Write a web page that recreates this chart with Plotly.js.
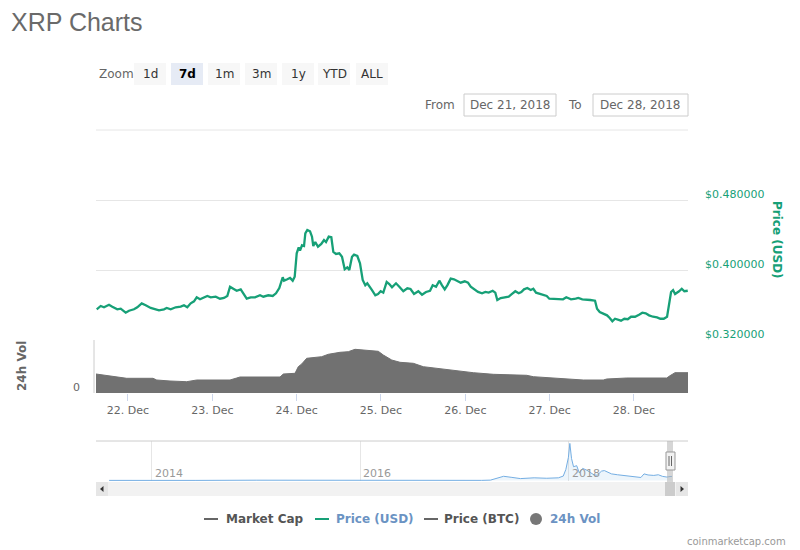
<!DOCTYPE html>
<html><head><meta charset="utf-8">
<script src="https://cdn.plot.ly/plotly-3.0.1.min.js"></script>
<style>html,body{margin:0;padding:0;background:#fff;}#chart{width:800px;height:550px;}</style>
</head><body><div id="chart"></div>
<script>
// ---------- DATA ----------
const rangeStart = '2018-12-21T14:54:00Z';   // left edge of main chart
const rangeHours = 168.48;                    // width of main window (hours)

// Price (USD), hours after rangeStart
const priceHours = [
0.20,1.34,2.28,3.70,4.64,6.06,7.03,8.45,9.39,10.81,
11.75,13.01,14.14,15.57,16.99,17.93,19.35,20.12,21.26,22.68,
24.11,25.04,25.98,26.95,27.89,28.66,29.60,30.74,31.68,32.64,
34.07,35.29,36.43,37.37,38.14,39.08,40.04,41.18,42.12,42.89,
44.03,45.25,46.68,47.62,49.04,50.29,51.23,52.17,53.14,53.51,
54.45,55.22,55.98,56.55,57.12,57.69,58.06,58.63,59.20,59.57,
60.14,60.91,61.47,61.84,62.41,63.18,64.12,64.89,65.46,66.23,
66.97,67.54,68.30,69.24,70.01,70.78,71.52,72.09,72.86,73.43,
74.37,75.13,75.90,76.64,77.21,77.98,78.55,79.49,80.26,81.02,
81.76,82.73,83.47,84.24,85.38,86.32,87.46,88.60,89.51,90.51,
91.73,92.78,93.92,95.06,95.83,96.77,97.71,98.48,99.24,99.98,
100.95,101.89,102.83,103.79,104.93,105.87,106.64,107.58,108.72,109.86,
110.80,111.76,112.90,113.64,114.21,115.18,116.32,117.45,118.39,119.33,
120.30,121.04,121.81,122.75,123.72,124.46,125.23,126.36,127.50,128.27,
129.01,130.06,131.57,132.91,133.85,135.19,136.53,137.27,138.40,139.54,
140.68,142.02,142.59,143.36,144.50,145.44,146.20,146.95,147.71,148.48,
149.42,150.36,151.33,152.27,153.41,154.55,155.49,156.45,157.39,158.53,
159.67,160.61,161.58,162.52,163.09,163.66,164.23,164.80,165.93,166.70,
167.44,168.41];
const priceUSD = [
.3551,.3589,.3574,.3603,.3581,.3551,.3558,.3512,.3535,.3551,
.3574,.3619,.3597,.3566,.3551,.3539,.3551,.3566,.3551,.3574,
.3581,.3597,.3574,.3619,.3642,.3688,.3665,.3688,.3703,.3688,
.3695,.3672,.3680,.3703,.3809,.3786,.3763,.3779,.3726,.3672,
.3688,.3688,.3711,.3695,.3711,.3703,.3734,.3794,.3917,.3878,
.3894,.3909,.3878,.3923,.4191,.4259,.4221,.4282,.4274,.4419,
.4457,.4442,.4381,.4274,.4320,.4266,.4297,.4343,.4320,.4381,
.4374,.4206,.4183,.4191,.4152,.4008,.4031,.4000,.4152,.4175,
.4160,.4077,.3886,.3825,.3848,.3809,.3771,.3711,.3726,.3757,
.3741,.3863,.3840,.3802,.3848,.3809,.3757,.3791,.3783,.3726,
.3757,.3718,.3749,.3763,.3825,.3809,.3878,.3825,.3779,.3825,
.3901,.3894,.3871,.3855,.3871,.3855,.3809,.3779,.3749,.3734,
.3749,.3741,.3763,.3741,.3657,.3680,.3688,.3695,.3726,.3757,
.3734,.3749,.3779,.3794,.3771,.3786,.3741,.3726,.3718,.3703,
.3672,.3672,.3672,.3665,.3688,.3665,.3672,.3680,.3665,.3657,
.3657,.3649,.3558,.3520,.3497,.3482,.3451,.3414,.3443,.3429,
.3421,.3443,.3437,.3466,.3466,.3489,.3512,.3505,.3482,.3466,
.3459,.3443,.3443,.3466,.3619,.3749,.3771,.3726,.3757,.3786,
.3757,.3763];

// 24h volume (USD), hours after rangeStart
const volHours = [0,4.84,8.74,16.22,17.28,21.06,25.81,28.66,38.14,40.04,
40.98,52.37,53.31,56.64,57.57,58.54,59.96,64.23,66.11,69.44,
71.80,73.71,76.07,80.34,81.76,84.16,86.52,90.31,93.15,96.00,
98.85,103.59,107.38,113.07,122.58,124.46,128.27,133.00,138.69,144.38,
145.35,151.04,162.42,163.36,164.78,168.48];
const volUSDmillions = [380,326,294,294,260,240,226,260,260,300,
320,320,380,394,526,580,694,726,774,814,
826,874,860,834,760,660,614,594,526,500,
480,440,406,374,354,326,306,280,260,260,
280,300,300,346,406,406];

// Navigator: all-time price history (USD)
const navDates = ['2013-08-04','2013-12-20','2014-06-01','2015-01-01','2015-06-01','2016-01-01',
'2016-06-01','2017-01-01','2017-03-01','2017-04-01','2017-05-17','2017-06-15','2017-07-15',
'2017-09-01','2017-10-15','2017-11-25','2017-12-12','2017-12-21','2017-12-30','2018-01-04',
'2018-01-10','2018-01-17','2018-01-28','2018-02-06','2018-02-18','2018-03-05','2018-03-30',
'2018-04-10','2018-04-25','2018-05-05','2018-05-30','2018-06-20','2018-07-15','2018-08-10',
'2018-08-25','2018-09-10','2018-09-21','2018-10-05','2018-10-25','2018-11-10','2018-11-25',
'2018-12-10','2018-12-21','2018-12-28'];
const navPrice = [0.0056,0.03,0.005,0.024,0.009,0.006,
0.006,0.0065,0.008,0.03,0.38,0.28,0.17,
0.24,0.20,0.24,0.40,1.00,2.10,3.38,
2.00,1.25,1.35,0.70,1.10,0.93,0.50,
0.48,0.85,0.90,0.60,0.52,0.46,0.34,
0.31,0.27,0.60,0.50,0.46,0.52,0.37,
0.31,0.36,0.37];
const navYearTicks = ['2014-01-01','2016-01-01','2018-01-01'];
const navYearText = ['2014','2016','2018'];

const priceTicks = [0.32, 0.40, 0.48, 0.56];
const priceTickText = ['$0.320000', '$0.400000', '$0.480000', ''];
const zoomButtons = ['1d','7d','1m','3m','1y','YTD','ALL'];
const selectedZoom = '7d';
const fromDate = 'Dec 21, 2018';
const toDate = 'Dec 28, 2018';
const legendNames = ['Market Cap','Price (USD)','Price (BTC)','24h Vol'];

// ---------- BUILD ----------
const base = Date.parse(rangeStart);
const t = h => new Date(base + h * 3600000).toISOString().slice(0, 19).replace('T', ' ');
const F = 'DejaVu Sans';
const GREEN = '#17a077';
const X = p => p / 800, Y = p => 1 - p / 550;

const traces = [
  { x: volHours.map(t), y: volUSDmillions.map(v => v * 1e6), type: 'scatter', mode: 'lines',
    xaxis: 'x', yaxis: 'y2', fill: 'tozeroy', fillcolor: '#717171',
    line: { color: '#717171', width: 1 }, hoverinfo: 'skip', name: '24h Vol' },
  { x: priceHours.map(t), y: priceUSD, type: 'scatter', mode: 'lines',
    xaxis: 'x', yaxis: 'y', line: { color: GREEN, width: 2.3 }, name: 'Price (USD)' },
  { x: navDates, y: navPrice, type: 'scatter', mode: 'lines', xaxis: 'x3', yaxis: 'y3',
    fill: 'tozeroy', fillcolor: 'rgba(110,170,225,0.12)',
    line: { color: '#74aee3', width: 1 }, hoverinfo: 'skip', name: 'nav' }
];

const shapes = [];
const annotations = [];
function rect(x0, y0, x1, y1, fill, line, layer) {
  shapes.push({ type: 'rect', xref: 'paper', yref: 'paper', x0: X(x0), x1: X(x1), y0: Y(y1), y1: Y(y0),
    fillcolor: fill, line: line || { width: 0 }, layer: layer || 'below' });
}
function hline(x0, x1, y, color, w, layer) {
  shapes.push({ type: 'line', xref: 'paper', yref: 'paper', x0: X(x0), x1: X(x1), y0: Y(y), y1: Y(y),
    line: { color: color, width: w || 1 }, layer: layer || 'below' });
}
function vline(x, y0, y1, color, w, layer) {
  shapes.push({ type: 'line', xref: 'paper', yref: 'paper', x0: X(x), x1: X(x), y0: Y(y0), y1: Y(y1),
    line: { color: color, width: w || 1 }, layer: layer || 'below' });
}
function txt(x, y, s, size, color, xanchor, extra) {
  annotations.push(Object.assign({ xref: 'paper', yref: 'paper', x: X(x), y: Y(y), text: s,
    showarrow: false, xanchor: xanchor || 'center', yanchor: 'middle',
    font: { family: F, size: size, color: color } }, extra || {}));
}

// Title
txt(9, 22, 'XRP Charts', 25, '#666666', 'left', { font: { family: 'Liberation Sans', size: 25, color: '#6a6a6a' } });

// Zoom buttons
txt(97, 74, 'Zoom', 12, '#666666', 'left');
const btnLeft = [134, 171, 208, 245, 282, 318, 356];
zoomButtons.forEach((b, i) => {
  const sel = b === selectedZoom;
  rect(btnLeft[i], 63, btnLeft[i] + 32, 85, sel ? '#e6ebf5' : '#f7f7f7');
  txt(btnLeft[i] + 16, 74, sel ? '<b>' + b + '</b>' : b, 12, sel ? '#000000' : '#333333');
});

// From / To inputs
txt(457, 105, 'From', 12, '#666666', 'right');
rect(464, 94, 556, 116, '#ffffff', { color: '#cccccc', width: 1 });
txt(510, 105, fromDate, 12, '#666666');
txt(584, 105, 'To', 12, '#666666', 'right');
rect(593, 94, 688, 116, '#ffffff', { color: '#cccccc', width: 1 });
txt(640, 105, toDate, 12, '#666666');

// Price pane top border
hline(96, 688, 130, '#e6e6e6', 1);

// Axis titles
txt(777, 240, '<b>Price (USD)</b>', 12, GREEN, 'center', { textangle: 90 });
txt(22, 366, '<b>24h Vol</b>', 12, '#666666', 'center', { textangle: -90 });

// Volume pane left border
vline(94, 340, 393, '#cccccc', 1);

// Navigator frame
hline(96, 688, 441, '#cccccc', 1, 'above');
rect(667, 441, 673, 482, 'rgba(180,180,180,0.55)', null, 'above');
rect(666, 452, 675, 470, '#f2f2f2', { color: '#999999', width: 1 }, 'above');
vline(669, 456, 466, '#666666', 1, 'above');
vline(671.5, 456, 466, '#666666', 1, 'above');

// Navigator year labels
navYearTicks.forEach((d, i) => {
  annotations.push({ xref: 'x3', yref: 'paper', x: d, y: Y(473), text: navYearText[i], showarrow: false,
    xanchor: 'left', yanchor: 'middle', xshift: 1, font: { family: F, size: 11, color: '#999999' } });
});

// Scrollbar
rect(96, 482, 688, 496, '#f2f2f2', null, 'above');
rect(96, 482, 108, 496, '#e6e6e6', null, 'above');
rect(676, 482, 688, 496, '#e6e6e6', null, 'above');
rect(665, 482, 675, 496, '#cccccc', null, 'above');
function tri(pts, color) {
  const d = pts.map((p, i) => (i ? 'L' : 'M') + X(p[0]) + ',' + Y(p[1])).join(' ') + ' Z';
  shapes.push({ type: 'path', xref: 'paper', yref: 'paper', path: d, fillcolor: color, line: { width: 0 }, layer: 'above' });
}
tri([[103.5, 486], [100, 489], [103.5, 492]], '#333333');
tri([[680.5, 486], [684, 489], [680.5, 492]], '#333333');

// Legend
const legX = [204, 315, 424, 536];
const legColors = ['#666666', GREEN, '#666666', '#777777'];
const legTextColors = ['#555555', '#6b93c3', '#555555', '#6b93c3'];
const legTextX = [224, 334, 442, 548];
legendNames.forEach((n, i) => {
  if (i < 3) {
    hline(legX[i], legX[i] + 14, 519, legColors[i], 2, 'above');
  } else {
    shapes.push({ type: 'circle', xref: 'paper', yref: 'paper', x0: X(530), x1: X(542), y0: Y(525), y1: Y(513),
      fillcolor: legColors[i], line: { width: 0 } });
  }
  txt(legTextX[i], 519, '<b>' + n + '</b>', 12, legTextColors[i], 'left');
});

// Credit
txt(788, 541, 'coinmarketcap.com', 10, '#999999', 'right');

const layout = {
  width: 800, height: 550,
  margin: { l: 0, r: 0, t: 0, b: 0 },
  paper_bgcolor: '#ffffff', plot_bgcolor: 'rgba(0,0,0,0)',
  showlegend: false,
  font: { family: F, size: 11, color: '#666666' },
  xaxis: {
    domain: [X(96), X(688)], anchor: 'y2', type: 'date',
    range: [t(0), t(rangeHours)],
    tick0: '2018-12-22', dtick: 86400000, tickformat: '%-d. %b',
    ticks: 'outside', ticklen: 7, tickcolor: '#ccd6eb', tickwidth: 1,
    showgrid: false, zeroline: false, showline: false,
    tickfont: { family: F, size: 11, color: '#666666' }
  },
  yaxis: {
    domain: [Y(340), Y(130)], anchor: 'x', side: 'right',
    range: [0.32, 0.56], tickvals: priceTicks, ticktext: priceTickText,
    showgrid: true, gridcolor: '#e6e6e6', gridwidth: 1, zeroline: false, showline: false,
    ticks: '', ticklabelposition: 'outside top', ticklabelstandoff: 16, ticklabelshift: 2,
    tickfont: { family: F, size: 11, color: GREEN }
  },
  yaxis2: {
    domain: [Y(393), Y(340)], anchor: 'x', side: 'left',
    range: [0, 1.06e9], tickvals: [0], ticktext: ['0'],
    showgrid: false, zeroline: false, showline: false, ticks: '',
    ticklabelposition: 'outside top', ticklabelstandoff: 15, ticklabelshift: 2,
    tickfont: { family: F, size: 11, color: '#666666' }
  },
  xaxis3: {
    domain: [X(96), X(688)], anchor: 'y3', type: 'date',
    range: ['2013-06-19', '2019-02-22'],
    tickvals: navYearTicks, showticklabels: false,
    showgrid: true, gridcolor: '#e6e6e6', zeroline: false, showline: false, ticks: ''
  },
  yaxis3: {
    domain: [Y(481), Y(441)], anchor: 'x3', range: [-0.05, 3.6],
    showgrid: false, zeroline: false, showline: false, showticklabels: false, ticks: ''
  },
  shapes: shapes,
  annotations: annotations
};

Plotly.newPlot('chart', traces, layout, { displayModeBar: false, staticPlot: true });
</script>
</body></html>
